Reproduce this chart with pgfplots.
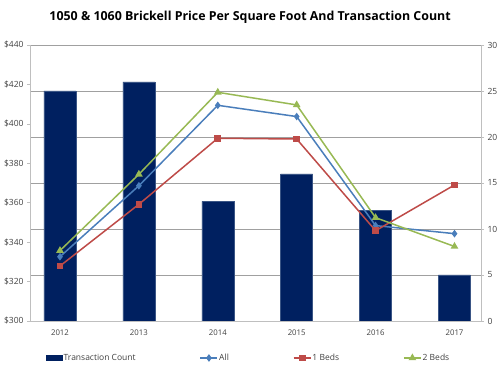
\documentclass[border=0pt]{standalone}
\usepackage{pgfplots}
\pgfplotsset{compat=1.18}
\usepackage{fontspec}
\setmainfont{Open Sans}
\definecolor{navybar}{HTML}{002060}
\definecolor{baredge}{HTML}{3A5585}
\definecolor{allc}{HTML}{4A7EBB}
\definecolor{bedone}{HTML}{BE4B48}
\definecolor{bedtwo}{HTML}{98B954}
\definecolor{gridc}{HTML}{A0A0A0}
\definecolor{axisc}{HTML}{BFBFBF}
\definecolor{txt}{HTML}{404040}
\begin{document}
\begin{tikzpicture}[x=1pt,y=1pt]
\useasboundingbox (0,0) rectangle (500,374);
\pgfplotsset{common/.style={scale only axis, width=451pt, height=276pt,
  at={(30pt,53pt)}, anchor=south west, xmin=-0.38, xmax=5.336,
  yticklabel style={font=\fontsize{8.5}{10}\selectfont, text=txt},
  xticklabel style={font=\fontsize{7.8}{9}\selectfont, text=txt},
  /pgf/number format/assume math mode=true,
  tick align=outside, major tick length=3pt,
  axis line style={axisc, line width=0.8pt},
  every tick/.style={axisc, line width=0.6pt}}}
\begin{axis}[common,
  ymin=0, ymax=30, ytick={0,5,...,30},
  axis x line*=bottom, axis y line*=right,
  ymajorgrids, grid style={gridc, line width=0.6pt},
  xtick={0,...,5}, xticklabels={2012,2013,2014,2015,2016,2017},
  major x tick style={draw=none},
  extra x ticks={0.5,1.5,2.5,3.5,4.5}, extra x tick labels={},
  extra x tick style={grid=none, major x tick style={axisc, line width=0.6pt}},
  xticklabel style={yshift=-2pt}]
\addplot[ybar, bar width=32pt, fill=navybar, draw=baredge, line width=0.4pt]
  coordinates {(0,25)(1,26)(2,13)(3,16)(4,12)(5,5)};
\end{axis}
\begin{axis}[common,
  ymin=300, ymax=440, ytick={300,320,...,440},
  axis y line*=left, axis x line=none,
  yticklabel={\$\pgfmathprintnumber{\tick}},
  title={1050 \& 1060 Brickell Price Per Square Foot And Transaction Count},
  title style={at={(0.488,1.08)}, anchor=center, font=\bfseries\fontsize{12.4}{14}\selectfont},
  legend style={at={(0.484,-0.134)}, anchor=center, draw=none, fill=none,
    legend columns=4, font=\fontsize{8.5}{10}\selectfont, text=txt,
    nodes={inner xsep=1pt},
    /tikz/every odd column/.append style={column sep=0pt},
    /tikz/every even column/.append style={column sep=63pt}},
  legend cell align=left]
\addlegendimage{legend image code/.code={\fill[navybar] (0pt,-2.5pt) rectangle (16pt,2.5pt);}}
\addlegendentry{Transaction Count}
\addplot[allc, line width=1.5pt, mark=diamond*, mark size=2.6pt, mark options={solid}]
  coordinates {(0,332.6)(1,368.6)(2,409.4)(3,403.7)(4,348.4)(5,344.3)};
\addlegendentry{All}
\addplot[bedone, line width=1.5pt, mark=square*, mark size=2.6pt]
  coordinates {(0,327.9)(1,359.2)(2,392.7)(3,392.3)(4,345.8)(5,369.0)};
\addlegendentry{1 Beds}
\addplot[bedtwo, line width=1.5pt, mark=triangle*, mark size=3pt]
  coordinates {(0,335.7)(1,374.4)(2,416.0)(3,409.6)(4,352.4)(5,337.8)};
\addlegendentry{2 Beds}
\end{axis}
\end{tikzpicture}
\end{document}
